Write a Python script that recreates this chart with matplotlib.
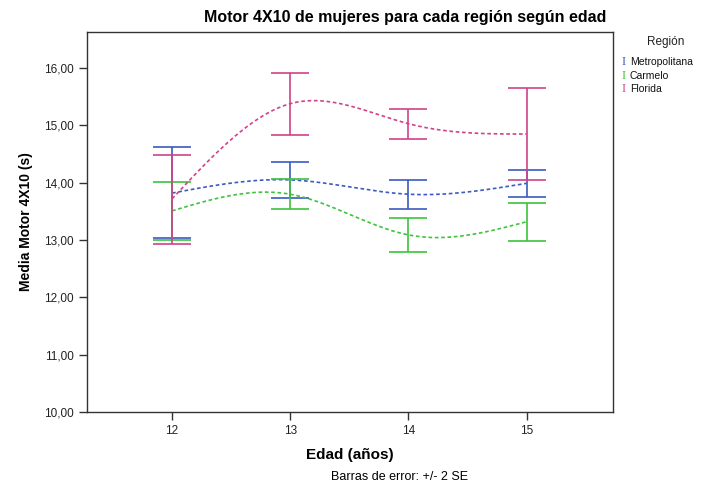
import numpy as np
import matplotlib
matplotlib.use("Agg")
import matplotlib.pyplot as plt
from matplotlib.ticker import FuncFormatter

plt.rcParams['font.family'] = ['Liberation Sans', 'DejaVu Sans']

ages = [12, 13, 14, 15]
regions = ["Metropolitana", "Carmelo", "Florida"]
colors = ["#3B5BBF", "#3CC43C", "#D0428A"]

metro_mean = [13.82, 14.05, 13.80, 13.99]
metro_lo = [13.03, 13.73, 13.54, 13.76]
metro_hi = [14.62, 14.36, 14.05, 14.22]

carmelo_mean = [13.51, 13.80, 13.09, 13.32]
carmelo_lo = [13.00, 13.55, 12.80, 12.99]
carmelo_hi = [14.02, 14.06, 13.38, 13.65]

florida_mean = [13.72, 15.38, 15.03, 14.85]
florida_lo = [12.93, 14.84, 14.77, 14.05]
florida_hi = [14.48, 15.91, 15.29, 15.66]

means = [metro_mean, carmelo_mean, florida_mean]
los = [metro_lo, carmelo_lo, florida_lo]
his = [metro_hi, carmelo_hi, florida_hi]


def natural_spline(x, y, xs):
    x = np.asarray(x, float); y = np.asarray(y, float)
    n = len(x)
    h = np.diff(x)
    A = np.zeros((n, n)); b = np.zeros(n)
    A[0, 0] = 1; A[-1, -1] = 1
    for i in range(1, n - 1):
        A[i, i - 1] = h[i - 1]
        A[i, i] = 2 * (h[i - 1] + h[i])
        A[i, i + 1] = h[i]
        b[i] = 3 * ((y[i + 1] - y[i]) / h[i] - (y[i] - y[i - 1]) / h[i - 1])
    c = np.linalg.solve(A, b)
    out = np.empty_like(xs)
    for k, xv in enumerate(xs):
        i = min(np.searchsorted(x, xv, side='right') - 1, n - 2)
        i = max(i, 0)
        dx = xv - x[i]
        bi = (y[i + 1] - y[i]) / h[i] - h[i] * (2 * c[i] + c[i + 1]) / 3
        di = (c[i + 1] - c[i]) / (3 * h[i])
        out[k] = y[i] + bi * dx + c[i] * dx ** 2 + di * dx ** 3
    return out


fig = plt.figure(figsize=(7.14, 4.88), dpi=100)
ax = fig.add_axes([0.1218, 0.1557, 0.7367, 0.7787])

xs = np.linspace(ages[0], ages[-1], 300)
for m, lo, hi, col in zip(means, los, his, colors):
    ys = natural_spline(ages, m, xs)
    ax.plot(xs, ys, color=col, lw=1.2, linestyle=(0, (2.2, 1.6)))
    m_arr = np.array(m)
    yerr = [m_arr - np.array(lo), np.array(hi) - m_arr]
    ax.errorbar(ages, m, yerr=yerr, fmt='none', ecolor=col, elinewidth=1.2,
                capsize=14, capthick=1.2)

ax.set_xlim(11.28, 15.73)
ax.set_ylim(10, 16.63)
ax.set_xticks(ages)
ax.set_xticklabels([str(a) for a in ages])
ax.set_yticks(np.arange(10, 17, 1))
ax.yaxis.set_major_formatter(FuncFormatter(lambda v, p: f"{v:.2f}".replace('.', ',')))
ax.tick_params(axis='both', labelsize=8.5, length=6, width=1, color='#333333', labelcolor='#222222')
for s in ax.spines.values():
    s.set_linewidth(1.0)
    s.set_color('#333333')

ax.set_xlabel("Edad (años)", fontsize=11, fontweight='bold', labelpad=8)
ax.set_ylabel("Media Motor 4X10 (s)", fontsize=10, fontweight='bold', labelpad=8,
              family=['Liberation Sans Narrow', 'Liberation Sans'])
fig.text(0.567, 0.965, "Motor 4X10 de mujeres para cada región según edad",
         ha='center', va='center', fontsize=11.5, fontweight='bold')
fig.text(0.56, 0.022, "Barras de error: +/- 2 SE", ha='center', va='center', fontsize=9)

fig.text(0.933, 0.913, "Región", ha='center', va='center', fontsize=8.5, color='#222222')
for i, (r, col) in enumerate(zip(regions, colors)):
    y = 0.872 - i * 0.027
    fig.text(0.870, y, "I", ha='left', va='center', fontsize=9, color=col,
             family=['Liberation Serif'])
    fig.text(0.882, y, r, ha='left', va='center', fontsize=7.5, color='#111111')

fig.savefig("out.png", dpi=100)
